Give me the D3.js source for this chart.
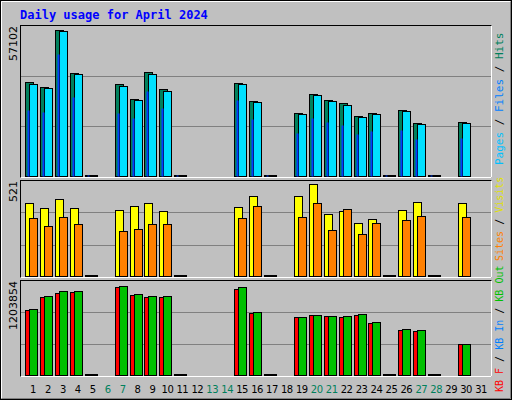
<!DOCTYPE html>
<html><head><meta charset="utf-8">
<script src="https://cdn.jsdelivr.net/npm/d3@7.9.0/dist/d3.min.js"></script>
<style>body{margin:0;background:#fff}svg{display:block}</style>
</head><body><svg width="512" height="400"></svg>
<script>
const days = d3.range(1, 32);
const weekend = [6, 7, 13, 14, 20, 21, 27, 28];
// null = no data for that day
const hits  = [36760,34810,57102,40280,150,null,35980,30120,40670,34030,150,null,null,null,36370,29330,150,null,24600,32000,29700,28500,23400,24600,150,25800,20800,150,null,21200];
const files = [35980,34420,56710,39900,150,null,35200,29720,39900,33240,150,null,null,null,35980,28900,150,null,24200,31600,29300,27800,23000,24200,150,25400,20400,150,null,20800];
const pages = [25810,25030,47710,30900,100,null,24640,22680,33240,26590,100,null,null,null,29720,22300,100,null,17000,22500,21000,20000,16500,17500,100,18000,14500,100,null,15000];
const visits = [413,385,436,385,6,null,374,396,413,368,6,null,null,null,391,453,6,null,453,521,351,368,300,323,2,374,419,6,null,413];
const sites  = [328,283,334,294,6,null,255,266,294,294,6,null,null,null,328,396,6,null,334,413,260,379,238,300,2,317,340,6,null,334];
const kbF   = [870000,1050000,1095000,1108000,2000,null,1175000,1070000,1040000,1040000,2000,null,null,null,1150000,830000,2000,null,775000,800000,790000,780000,800000,695000,2000,605000,595000,2000,null,415000];
const kbOut = [882000,1063000,1120000,1120000,2000,null,1188000,1083000,1052000,1052000,2000,null,null,null,1175000,843000,2000,null,780000,802000,790000,790000,815000,708000,2000,615000,605000,2000,null,415000];
const maxHits = 57102, maxVisits = 521, maxKB = 1203854;

const svg = d3.select("svg");
svg.append("rect").attr("x",0).attr("y",0).attr("width",512).attr("height",400).attr("fill","#c0c0c0");
svg.append("rect").attr("x",0.5).attr("y",0.5).attr("width",511).attr("height",399).attr("fill","none").attr("stroke","#000");
svg.append("path").attr("d","M1.5,398.5V1.5H510.5").attr("fill","none").attr("stroke","#fff");
svg.append("path").attr("d","M1.5,398.5H510.5V1.5").attr("fill","none").attr("stroke","#808080");

svg.append("text").attr("x",20).attr("y",19).attr("font-family","DejaVu Sans Mono").attr("font-weight","bold")
  .attr("font-size",12).attr("fill","#0000ff").text("Daily usage for April 2024");

const x = d3.scaleLinear().domain([1, 31]).range([33, 481]);
const L = 20, R = 491;

function panel(top, bottom, base, yTop, max) {
  svg.append("rect").attr("x",L+0.5).attr("y",top+0.5).attr("width",R-L).attr("height",bottom-top)
    .attr("fill","#c0c0c0").attr("stroke","#000");
  svg.append("path").attr("d",`M${L+0.5},${bottom+0.5}H${R+0.5}V${top+0.5}`).attr("fill","none").attr("stroke","#fff");
  const h = bottom - top;
  [1/3, 2/3].forEach(f => svg.append("line").attr("x1",L+1).attr("x2",R).attr("y1",Math.round(bottom - h*f)+0.5)
    .attr("y2",Math.round(bottom - h*f)+0.5).attr("stroke","#808080"));
  return d3.scaleLinear().domain([0, max]).range([base, yTop]);
}

function bars(vals, y, dx, w, fill, stroke) {
  svg.append("g").selectAll("rect").data(days.filter((d,i)=>vals[i]!=null)).join("rect")
    .attr("x", d => Math.round(x(d)) + dx + 0.5)
    .attr("y", d => Math.min(Math.round(y(vals[d-1])), y(0)-1) + 0.5)
    .attr("width", w)
    .attr("height", d => Math.max(1, y(0) - Math.min(Math.round(y(vals[d-1])), y(0)-1)))
    .attr("fill", fill).attr("stroke", stroke ? "#000" : "none");
}

const y1 = panel(25, 177, 176, 30, maxHits);
bars(hits, y1, -8, 8, "#00805c", true);
bars(files, y1, -4, 8, "#00e0ff", true);
bars(pages, y1, -6, 2, "#0040ff", false);

const y2 = panel(180, 277, 276, 184, maxVisits);
bars(visits, y2, -8, 8, "#ffff00", true);
bars(sites, y2, -4, 8, "#ff8000", true);

const y3 = panel(280, 376, 375, 285, maxKB);
bars(kbF, y3, -8, 8, "#ff0000", true);
bars(kbOut, y3, -4, 8, "#00c000", true);

// rotated max labels
[[25,"57102"],[180,"521"],[280,"1203854"]].forEach(([t,s]) =>
  svg.append("text").attr("transform",`translate(17,${t+1}) rotate(-90)`).attr("text-anchor","end")
    .attr("font-family","DejaVu Sans").attr("font-size",11).attr("fill","#000").text(s));

// right legends
function legend(yBottom, size, parts) {
  const t = svg.append("text").attr("transform",`translate(503,${yBottom}) rotate(-90)`)
    .attr("font-family","DejaVu Sans Mono").attr("font-size",size);
  parts.forEach(([s,c]) => t.append("tspan").attr("fill",c).text(s));
}
legend(165, 11, [["Pages","#00c0ff"],[" / ","#000"],["Files","#0080ff"],[" / ","#000"],["Hits","#00805c"]]);
legend(261, 10, [["Sites","#ff8000"],[" / ","#000"],["Visits","#e0e000"]]);
legend(392, 10, [["KB F","#ff0000"],[" / ","#000"],["KB In","#0080ff"],[" / ","#000"],["KB Out","#00c000"]]);

svg.append("g").selectAll("text").data(days).join("text")
  .attr("x", d => x(d)).attr("y", 393).attr("text-anchor","middle")
  .attr("font-family","DejaVu Sans").attr("font-size",10).attr("letter-spacing",-0.5)
  .attr("fill", d => weekend.includes(d) ? "#00805c" : "#000").text(d => d);
</script></body></html>
